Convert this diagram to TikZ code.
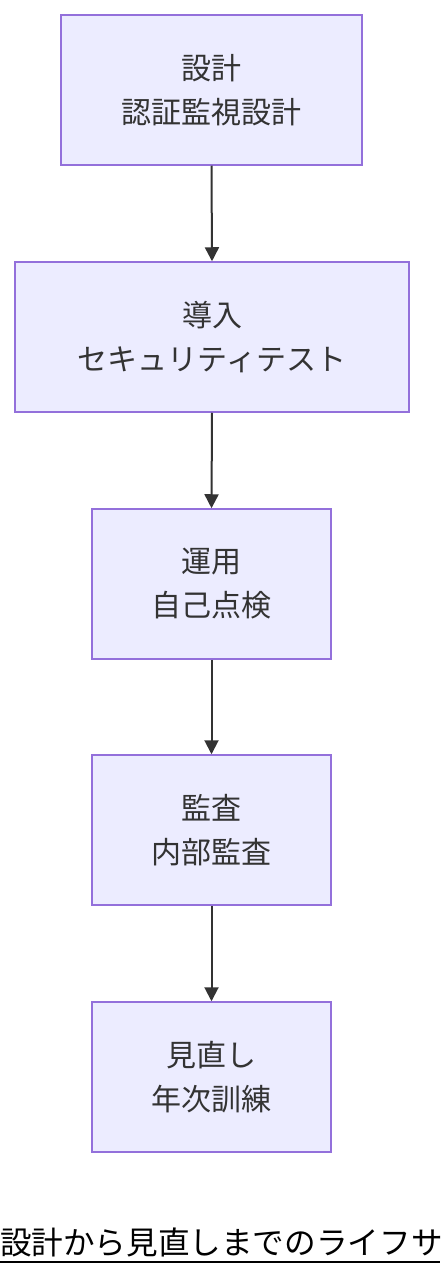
\documentclass[tikz,border=0pt]{standalone}
\usepackage{fontspec}
\newfontfamily\cjk{Noto Sans CJK JP}
\usetikzlibrary{arrows.meta}
\definecolor{boxfill}{HTML}{ECECFF}
\definecolor{boxline}{HTML}{9370DB}
\definecolor{ink}{HTML}{333333}
\tikzset{
  stage/.style={draw=boxline, fill=boxfill, line width=1.5pt, minimum height=150pt,
    align=center, text=ink, font=\cjk\fontsize{30}{44}\selectfont, inner sep=0pt},
  flow/.style={draw=ink, line width=2pt, -{Triangle[length=14pt,width=14pt]}}
}
\begin{document}
\begin{tikzpicture}[x=1pt,y=-1pt]
\useasboundingbox (0,0) rectangle (440,1276);
\clip (0,0) rectangle (440,1276);
\fill[white] (0,0) rectangle (440,1276);
\node[stage, minimum width=301pt] (a) at (211.5,90) {設計\\認証監視設計};
\node[stage, minimum width=394pt] (b) at (212,337) {導入\\セキュリティテスト};
\node[stage, minimum width=239pt] (c) at (211.5,584) {運用\\自己点検};
\node[stage, minimum width=239pt] (d) at (211.5,830) {監査\\内部監査};
\node[stage, minimum width=239pt] (e) at (211.5,1077) {見直し\\年次訓練};
\draw[flow] (a.south) -- (b.north);
\draw[flow] (b.south) -- (c.north);
\draw[flow] (c.south) -- (d.north);
\draw[flow] (d.south) -- (e.north);
\node[anchor=base west, inner sep=0pt, text=black, font=\cjk\fontsize{31.6}{31.6}\selectfont] (cap) at (0,1254) {設計から見直しまでのライフサ};
\draw[black, line width=2pt] (cap.west |- 0,1262) -- (440,1262);
\end{tikzpicture}
\end{document}
